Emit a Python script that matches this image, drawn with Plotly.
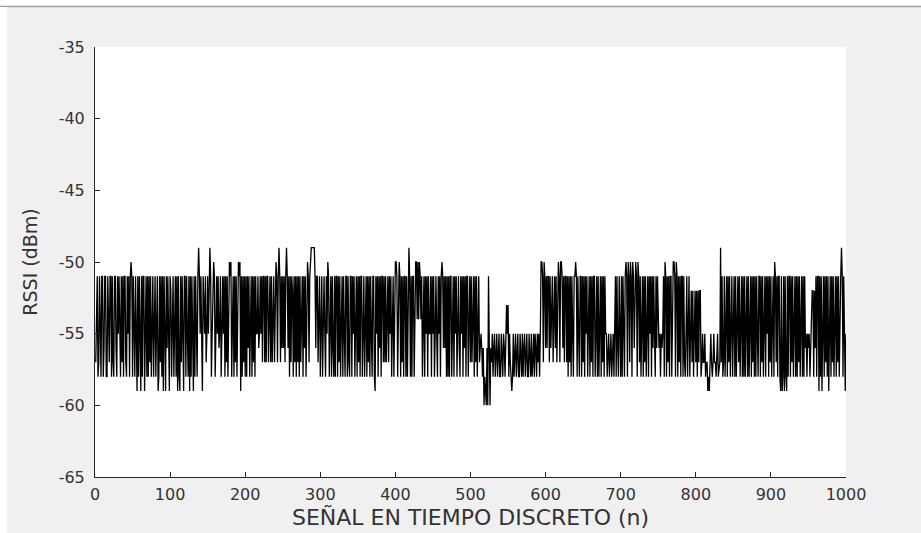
import plotly.graph_objects as go

# RSSI samples (dBm) (n = 1..1000)
seg_000 = [-57, -51, -51, -58, -57, -51, -55, -58, -51, -51,
           -58, -56, -51, -51, -58, -58, -51, -55, -57, -51,
           -51, -58, -51, -57, -58, -51, -51, -56, -58, -51,
           -55, -51, -58, -58, -51, -57, -51, -58, -51, -51,
           -57, -58, -51, -55, -51, -58, -51, -50, -51, -58,
           -51, -56, -58, -51, -59, -59, -51, -58, -51, -57,
           -59, -51, -58, -51, -51, -59, -55, -51, -58, -51,
           -58, -51, -57, -51, -58, -51, -51, -58, -55, -51,
           -58, -51, -51, -59, -58, -51, -57, -51, -58, -51,
           -59, -51, -58, -59, -51, -56, -51, -58, -59, -51]
seg_100 = [-52, -58, -52, -51, -58, -51, -51, -58, -51, -59,
           -51, -58, -59, -51, -57, -51, -58, -59, -51, -51,
           -58, -51, -55, -58, -51, -59, -51, -58, -51, -57,
           -59, -51, -58, -51, -55, -58, -51, -49, -51, -55,
           -51, -58, -59, -51, -55, -55, -51, -57, -55, -51,
           -55, -51, -49, -51, -58, -55, -51, -50, -51, -58,
           -55, -51, -55, -51, -56, -55, -51, -58, -55, -51,
           -55, -51, -58, -51, -57, -51, -58, -50, -50, -51,
           -50, -58, -51, -51, -58, -51, -57, -51, -58, -51,
           -50, -51, -50, -59, -51, -58, -51, -57, -51, -58]
seg_200 = [-51, -58, -51, -56, -51, -58, -51, -51, -58, -51,
           -57, -51, -58, -51, -55, -55, -51, -56, -55, -51,
           -55, -51, -57, -51, -51, -57, -51, -57, -51, -51,
           -57, -51, -51, -57, -51, -57, -51, -51, -57, -51,
           -50, -51, -57, -51, -49, -51, -57, -51, -56, -51,
           -56, -51, -57, -51, -49, -51, -56, -51, -58, -51,
           -57, -51, -52, -58, -51, -57, -51, -58, -51, -57,
           -51, -58, -51, -57, -51, -51, -58, -51, -56, -51,
           -58, -51, -50, -51, -57, -51, -49, -49, -49, -49,
           -49, -49, -51, -56, -51, -51, -57, -51, -51, -58]
seg_300 = [-55, -51, -58, -55, -51, -55, -58, -51, -55, -50,
           -51, -58, -51, -51, -58, -51, -56, -58, -51, -58,
           -51, -51, -58, -51, -57, -51, -58, -51, -51, -58,
           -51, -55, -58, -51, -51, -58, -51, -57, -58, -51,
           -51, -58, -51, -55, -51, -58, -51, -51, -58, -51,
           -57, -51, -58, -51, -51, -58, -55, -51, -58, -51,
           -51, -58, -51, -57, -51, -58, -51, -55, -58, -51,
           -51, -58, -59, -51, -55, -51, -58, -51, -56, -51,
           -58, -51, -51, -57, -51, -57, -51, -57, -51, -51,
           -57, -51, -55, -51, -58, -51, -51, -58, -51, -50]
seg_400 = [-50, -51, -58, -51, -50, -51, -58, -51, -57, -51,
           -58, -51, -51, -58, -51, -58, -51, -49, -51, -58,
           -51, -58, -51, -51, -58, -51, -50, -50, -54, -50,
           -54, -50, -51, -54, -51, -58, -51, -51, -58, -51,
           -55, -51, -58, -51, -55, -55, -51, -58, -51, -55,
           -51, -58, -55, -51, -55, -58, -51, -55, -51, -58,
           -51, -50, -51, -56, -51, -56, -51, -58, -51, -58,
           -51, -58, -51, -51, -58, -51, -51, -58, -51, -55,
           -51, -58, -55, -51, -56, -58, -51, -55, -51, -58,
           -51, -56, -51, -58, -51, -51, -58, -51, -51, -57]
seg_500 = [-51, -57, -51, -51, -58, -51, -57, -51, -58, -51,
           -51, -57, -56, -55, -56, -58, -56, -60, -58, -60,
           -60, -56, -60, -51, -58, -60, -56, -57, -55, -58,
           -56, -55, -58, -57, -55, -58, -56, -55, -58, -58,
           -55, -57, -58, -55, -56, -58, -53, -53, -55, -53,
           -58, -55, -57, -58, -59, -58, -55, -58, -57, -55,
           -58, -56, -55, -58, -58, -55, -57, -58, -55, -58,
           -56, -55, -58, -57, -55, -58, -58, -55, -56, -58,
           -55, -58, -57, -55, -58, -55, -56, -58, -55, -57,
           -55, -58, -55, -50, -50, -51, -57, -50, -51, -56]
seg_600 = [-51, -56, -51, -51, -57, -51, -56, -51, -51, -57,
           -51, -51, -56, -51, -57, -50, -50, -51, -57, -50,
           -50, -51, -56, -51, -57, -51, -51, -57, -51, -58,
           -51, -57, -51, -58, -51, -55, -58, -51, -51, -50,
           -51, -58, -51, -55, -58, -51, -51, -58, -51, -57,
           -51, -58, -51, -55, -51, -58, -51, -51, -58, -51,
           -57, -51, -58, -51, -51, -58, -55, -51, -58, -51,
           -58, -51, -51, -58, -51, -57, -51, -58, -51, -55,
           -55, -58, -55, -55, -58, -55, -55, -58, -55, -55,
           -58, -55, -51, -58, -51, -56, -58, -51, -55, -58]
seg_700 = [-51, -58, -51, -55, -58, -51, -50, -51, -58, -50,
           -51, -57, -50, -51, -58, -50, -51, -56, -51, -50,
           -51, -58, -50, -51, -57, -51, -58, -51, -51, -58,
           -51, -57, -51, -58, -51, -51, -58, -51, -55, -51,
           -58, -51, -56, -51, -55, -58, -51, -56, -51, -55,
           -56, -55, -58, -55, -56, -55, -51, -58, -50, -51,
           -58, -51, -57, -51, -58, -51, -51, -58, -51, -50,
           -50, -51, -58, -50, -51, -58, -51, -57, -51, -58,
           -51, -51, -58, -51, -57, -58, -55, -51, -58, -55,
           -51, -58, -52, -52, -57, -52, -58, -52, -52, -57]
seg_800 = [-52, -58, -52, -57, -52, -52, -58, -57, -55, -57,
           -57, -55, -58, -57, -57, -59, -58, -59, -57, -55,
           -57, -58, -57, -55, -57, -57, -58, -57, -55, -58,
           -57, -57, -49, -57, -51, -58, -57, -51, -58, -51,
           -51, -58, -51, -57, -51, -58, -51, -51, -58, -51,
           -51, -58, -51, -58, -51, -51, -57, -51, -58, -51,
           -51, -58, -51, -58, -51, -58, -51, -51, -58, -51,
           -58, -51, -51, -58, -51, -57, -51, -58, -51, -58,
           -51, -55, -58, -51, -51, -58, -51, -57, -51, -58,
           -51, -51, -58, -51, -55, -51, -58, -51, -57, -51]
seg_900 = [-58, -51, -51, -58, -50, -51, -57, -51, -58, -51,
           -51, -58, -59, -51, -59, -58, -51, -59, -51, -58,
           -59, -51, -58, -51, -51, -58, -51, -57, -51, -58,
           -51, -51, -58, -51, -58, -51, -57, -51, -58, -51,
           -51, -58, -51, -58, -51, -56, -55, -58, -55, -56,
           -55, -58, -56, -55, -52, -52, -58, -52, -56, -51,
           -58, -51, -51, -59, -51, -58, -51, -59, -51, -51,
           -58, -51, -57, -51, -58, -51, -59, -51, -51, -58,
           -51, -57, -51, -58, -51, -51, -58, -51, -57, -51,
           -58, -51, -51, -49, -51, -58, -51, -55, -59, -55]

rssi = (seg_000 + seg_100 + seg_200 + seg_300 + seg_400 +
        seg_500 + seg_600 + seg_700 + seg_800 + seg_900)
n = list(range(1, len(rssi) + 1))

x_ticks = [0, 100, 200, 300, 400, 500, 600, 700, 800, 900, 1000]
x_tick_text = ["0", "100", "200", "300", "400", "500", "600", "700", "800", "900", "1000"]
y_ticks = [-65, -60, -55, -50, -45, -40, -35]
y_tick_text = ["-65", "-60", "-55", "-50", "-45", "-40", "-35"]

axis_col = "#262626"
text_col = "#333333"
font_fam = "DejaVu Sans, Liberation Sans, Arial, sans-serif"

fig = go.Figure()
fig.add_trace(go.Scatter(x=n, y=rssi, mode="lines",
                         line=dict(color="black", width=1.3),
                         showlegend=False, hoverinfo="skip"))

W, H = 921, 533
L, R, T, B = 95, 75, 47, 56
pw, ph = W - L - R, H - T - B

def px_x(px):
    return (px - L) / pw

def px_y(py):
    return (H - B - py) / ph

fig.update_layout(
    width=W, height=H,
    margin=dict(l=L, r=R, t=T, b=B, pad=0, autoexpand=False),
    paper_bgcolor="#f0f0f0",
    plot_bgcolor="white",
    font=dict(family=font_fam, size=16, color=text_col),
    xaxis=dict(range=[0, 1000], tickvals=x_ticks, ticktext=x_tick_text,
               ticks="inside", ticklen=5, automargin=False,
               tickcolor=axis_col, showline=True, linecolor=axis_col, linewidth=1,
               showgrid=False, zeroline=False, tickfont=dict(size=16),
               ticklabelstandoff=3,
               title=dict(text="SEÑAL EN TIEMPO DISCRETO (n)", font=dict(size=22),
                          standoff=5)),
    yaxis=dict(range=[-65, -35], tickvals=y_ticks, ticktext=y_tick_text,
               ticks="inside", ticklen=5, automargin=False,
               tickcolor=axis_col, showline=True, linecolor=axis_col, linewidth=1,
               showgrid=False, zeroline=False, tickfont=dict(size=16),
               ticklabelstandoff=6,
               title=dict(text="RSSI (dBm)", font=dict(size=19), standoff=16)),
    shapes=[
        dict(type="rect", xref="paper", yref="paper",
             x0=px_x(0), x1=px_x(W), y0=px_y(6), y1=px_y(0),
             fillcolor="white", line=dict(width=0), layer="above"),
        dict(type="line", xref="paper", yref="paper",
             x0=px_x(0), x1=px_x(W), y0=px_y(6.5), y1=px_y(6.5),
             line=dict(color="#a0a0a0", width=1.5), layer="above"),
        dict(type="rect", xref="paper", yref="paper",
             x0=px_x(0), x1=px_x(7), y0=px_y(H), y1=px_y(7),
             fillcolor="white", line=dict(width=0), layer="above"),
    ],
)

fig.write_html("out.html")
